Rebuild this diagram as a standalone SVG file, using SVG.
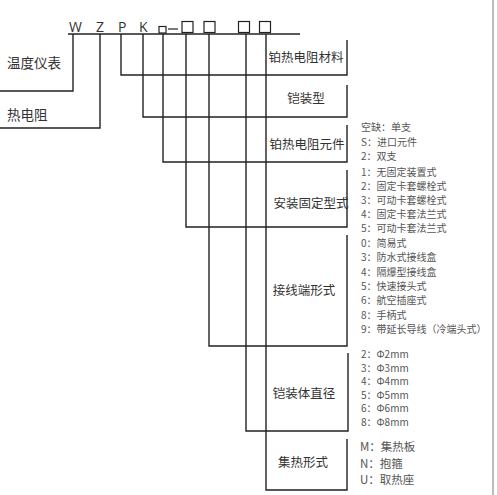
<svg xmlns="http://www.w3.org/2000/svg" width="497" height="495" viewBox="0 0 497 495">
<style>
.ln{fill:none;stroke:#222;stroke-width:1.4}
.sq{fill:none;stroke:#222;stroke-width:1.2}
.code{font-family:"Open Sans","Liberation Sans",sans-serif;font-size:14px;fill:#333}
.lbl{font-family:"Noto Sans CJK SC","Noto Sans",sans-serif;font-size:12.5px;fill:#333}
.lbl2{font-family:"Noto Sans CJK SC","Noto Sans",sans-serif;font-size:13.5px;fill:#333}
.opt{font-family:"Noto Sans CJK SC","Noto Sans",sans-serif;font-size:10px;fill:#555}
.opt2{font-family:"Noto Sans CJK SC","Noto Sans",sans-serif;font-size:11.5px;fill:#555}
.c{text-anchor:middle}
</style>
<rect width="497" height="495" fill="#fff"/>
<line x1="493" y1="0" x2="493" y2="495" stroke="#bbb" stroke-width="2"/>
<g id="code">
<text class="code" x="69" y="32">W</text>
<text class="code" x="96" y="32">Z</text>
<text class="code" x="118" y="32">P</text>
<text class="code" x="139" y="32">K</text>
<rect class="sq" x="159" y="26.5" width="7" height="6.5"/>
<line x1="168" y1="29" x2="178" y2="29" stroke="#222" stroke-width="1.2"/>
<rect class="sq" x="182" y="21.5" width="11" height="11"/>
<rect class="sq" x="204" y="21.5" width="11" height="11"/>
<rect class="sq" x="238.5" y="21.5" width="11" height="11"/>
<rect class="sq" x="259.5" y="21.5" width="11" height="11"/>
</g>
<g id="connectors">
<line class="ln" x1="68" y1="34" x2="300" y2="34"/>
<polyline class="ln" points="73,34 73,91 0,91"/>
<polyline class="ln" points="100,34 100,128 0,128"/>
<polyline class="ln" points="121,34 121,75 347,75 347,40"/>
<polyline class="ln" points="143,34 143,117 347,117 347,85"/>
<polyline class="ln" points="163,34 163,162 347,162 347,125"/>
<polyline class="ln" points="186,34 186,227 347,227 347,170"/>
<polyline class="ln" points="209,34 209,346 347,346 347,235"/>
<polyline class="ln" points="246,34 246,431 348,431 348,353"/>
<polyline class="ln" points="266,34 266,490 347,490 347,439"/>
</g>
<g id="n-wendu"><text class="lbl2" x="7" y="68">温度仪表</text></g>
<g id="n-redianzu"><text class="lbl2" x="7" y="120">热电阻</text></g>
<g id="n-cailiao"><text class="lbl c" x="306" y="62">铂热电阻材料</text></g>
<g id="n-kaizhuang"><text class="lbl c" x="306" y="103">铠装型</text></g>
<g id="n-yuanjian">
<text class="lbl c" x="307" y="149">铂热电阻元件</text>
<text class="opt" x="361" y="131">空缺：单支</text>
<text class="opt" x="361" y="146">S：进口元件</text>
<text class="opt" x="361" y="160">2：双支</text>
</g>
<g id="n-anzhuang">
<text class="lbl c" x="311" y="208">安装固定型式</text>
<text class="opt" x="361" y="176">1：无固定装置式</text>
<text class="opt" x="361" y="190">2：固定卡套螺栓式</text>
<text class="opt" x="361" y="204">3：可动卡套螺栓式</text>
<text class="opt" x="361" y="218">4：固定卡套法兰式</text>
<text class="opt" x="361" y="232">5：可动卡套法兰式</text>
</g>
<g id="n-jiexian">
<text class="lbl c" x="304" y="295">接线端形式</text>
<text class="opt" x="361" y="247">0：简易式</text>
<text class="opt" x="361" y="261.3">3：防水式接线盒</text>
<text class="opt" x="361" y="275.6">4：隔爆型接线盒</text>
<text class="opt" x="361" y="289.9">5：快速接头式</text>
<text class="opt" x="361" y="304.2">6：航空插座式</text>
<text class="opt" x="361" y="318.5">8：手柄式</text>
<text class="opt" x="361" y="332.8">9：带延长导线（冷端头式）</text>
</g>
<g id="n-zhijing">
<text class="lbl c" x="304" y="398">铠装体直径</text>
<text class="opt" x="361" y="358">2：Φ2mm</text>
<text class="opt" x="361" y="371.5">3：Φ3mm</text>
<text class="opt" x="361" y="385">4：Φ4mm</text>
<text class="opt" x="361" y="398.5">5：Φ5mm</text>
<text class="opt" x="361" y="412">6：Φ6mm</text>
<text class="opt" x="361" y="425.5">8：Φ8mm</text>
</g>
<g id="n-jire">
<text class="lbl c" x="303" y="467">集热形式</text>
<text class="opt2" x="360" y="451">M：集热板</text>
<text class="opt2" x="360" y="467.5">N：抱箍</text>
<text class="opt2" x="360" y="484">U：取热座</text>
</g>
</svg>
